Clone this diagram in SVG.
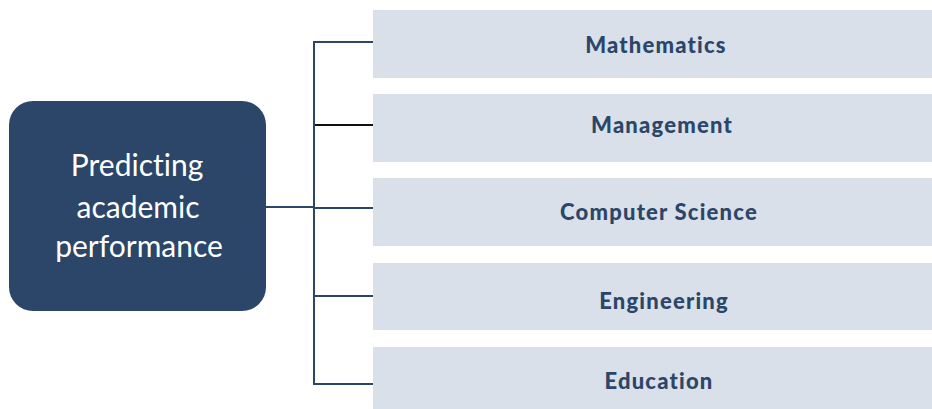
<svg xmlns="http://www.w3.org/2000/svg" width="932" height="409" viewBox="0 0 932 409">
<style>
.box{fill:#d9e0e9}
.lbl{font-family:Lato,"Open Sans",sans-serif;font-weight:900;font-size:22px;letter-spacing:1.2px;fill:#2b4668;text-anchor:middle}
.main{font-family:Lato,"Open Sans",sans-serif;font-weight:400;font-size:30px;fill:#ffffff;text-anchor:middle;font-variant-ligatures:none}
.con{stroke:#2b4668;stroke-width:2;fill:none}
</style>
<rect width="932" height="409" fill="#ffffff"/>
<g id="connectors">
<path class="con" d="M266 207 H314 M314 42 V384 M313 42 H373 M313 208 H373 M313 296 H373 M313 384 H373"/>
<path class="con" d="M315 125 H373" stroke="#111111" style="stroke:#111111"/>
</g>
<g id="node-main">
<rect x="9" y="101" width="257" height="210" rx="24" fill="#2b4668"/>
<text class="main" x="137" y="176">Predicting</text>
<text class="main" x="138" y="218">academic</text>
<text class="main" x="139" y="257">performance</text>
</g>
<g id="node-math">
<rect class="box" x="373" y="10" width="559" height="68"/>
<text class="lbl" x="656" y="52.5">Mathematics</text>
</g>
<g id="node-mgmt">
<rect class="box" x="373" y="94" width="559" height="68"/>
<text class="lbl" x="662" y="133">Management</text>
</g>
<g id="node-cs">
<rect class="box" x="373" y="178" width="559" height="68"/>
<text class="lbl" x="659" y="219.5">Computer Science</text>
</g>
<g id="node-eng">
<rect class="box" x="373" y="263" width="559" height="67"/>
<text class="lbl" x="664" y="309">Engineering</text>
</g>
<g id="node-edu">
<rect class="box" x="373" y="347" width="559" height="62"/>
<text class="lbl" x="659" y="388.5">Education</text>
</g>
</svg>
